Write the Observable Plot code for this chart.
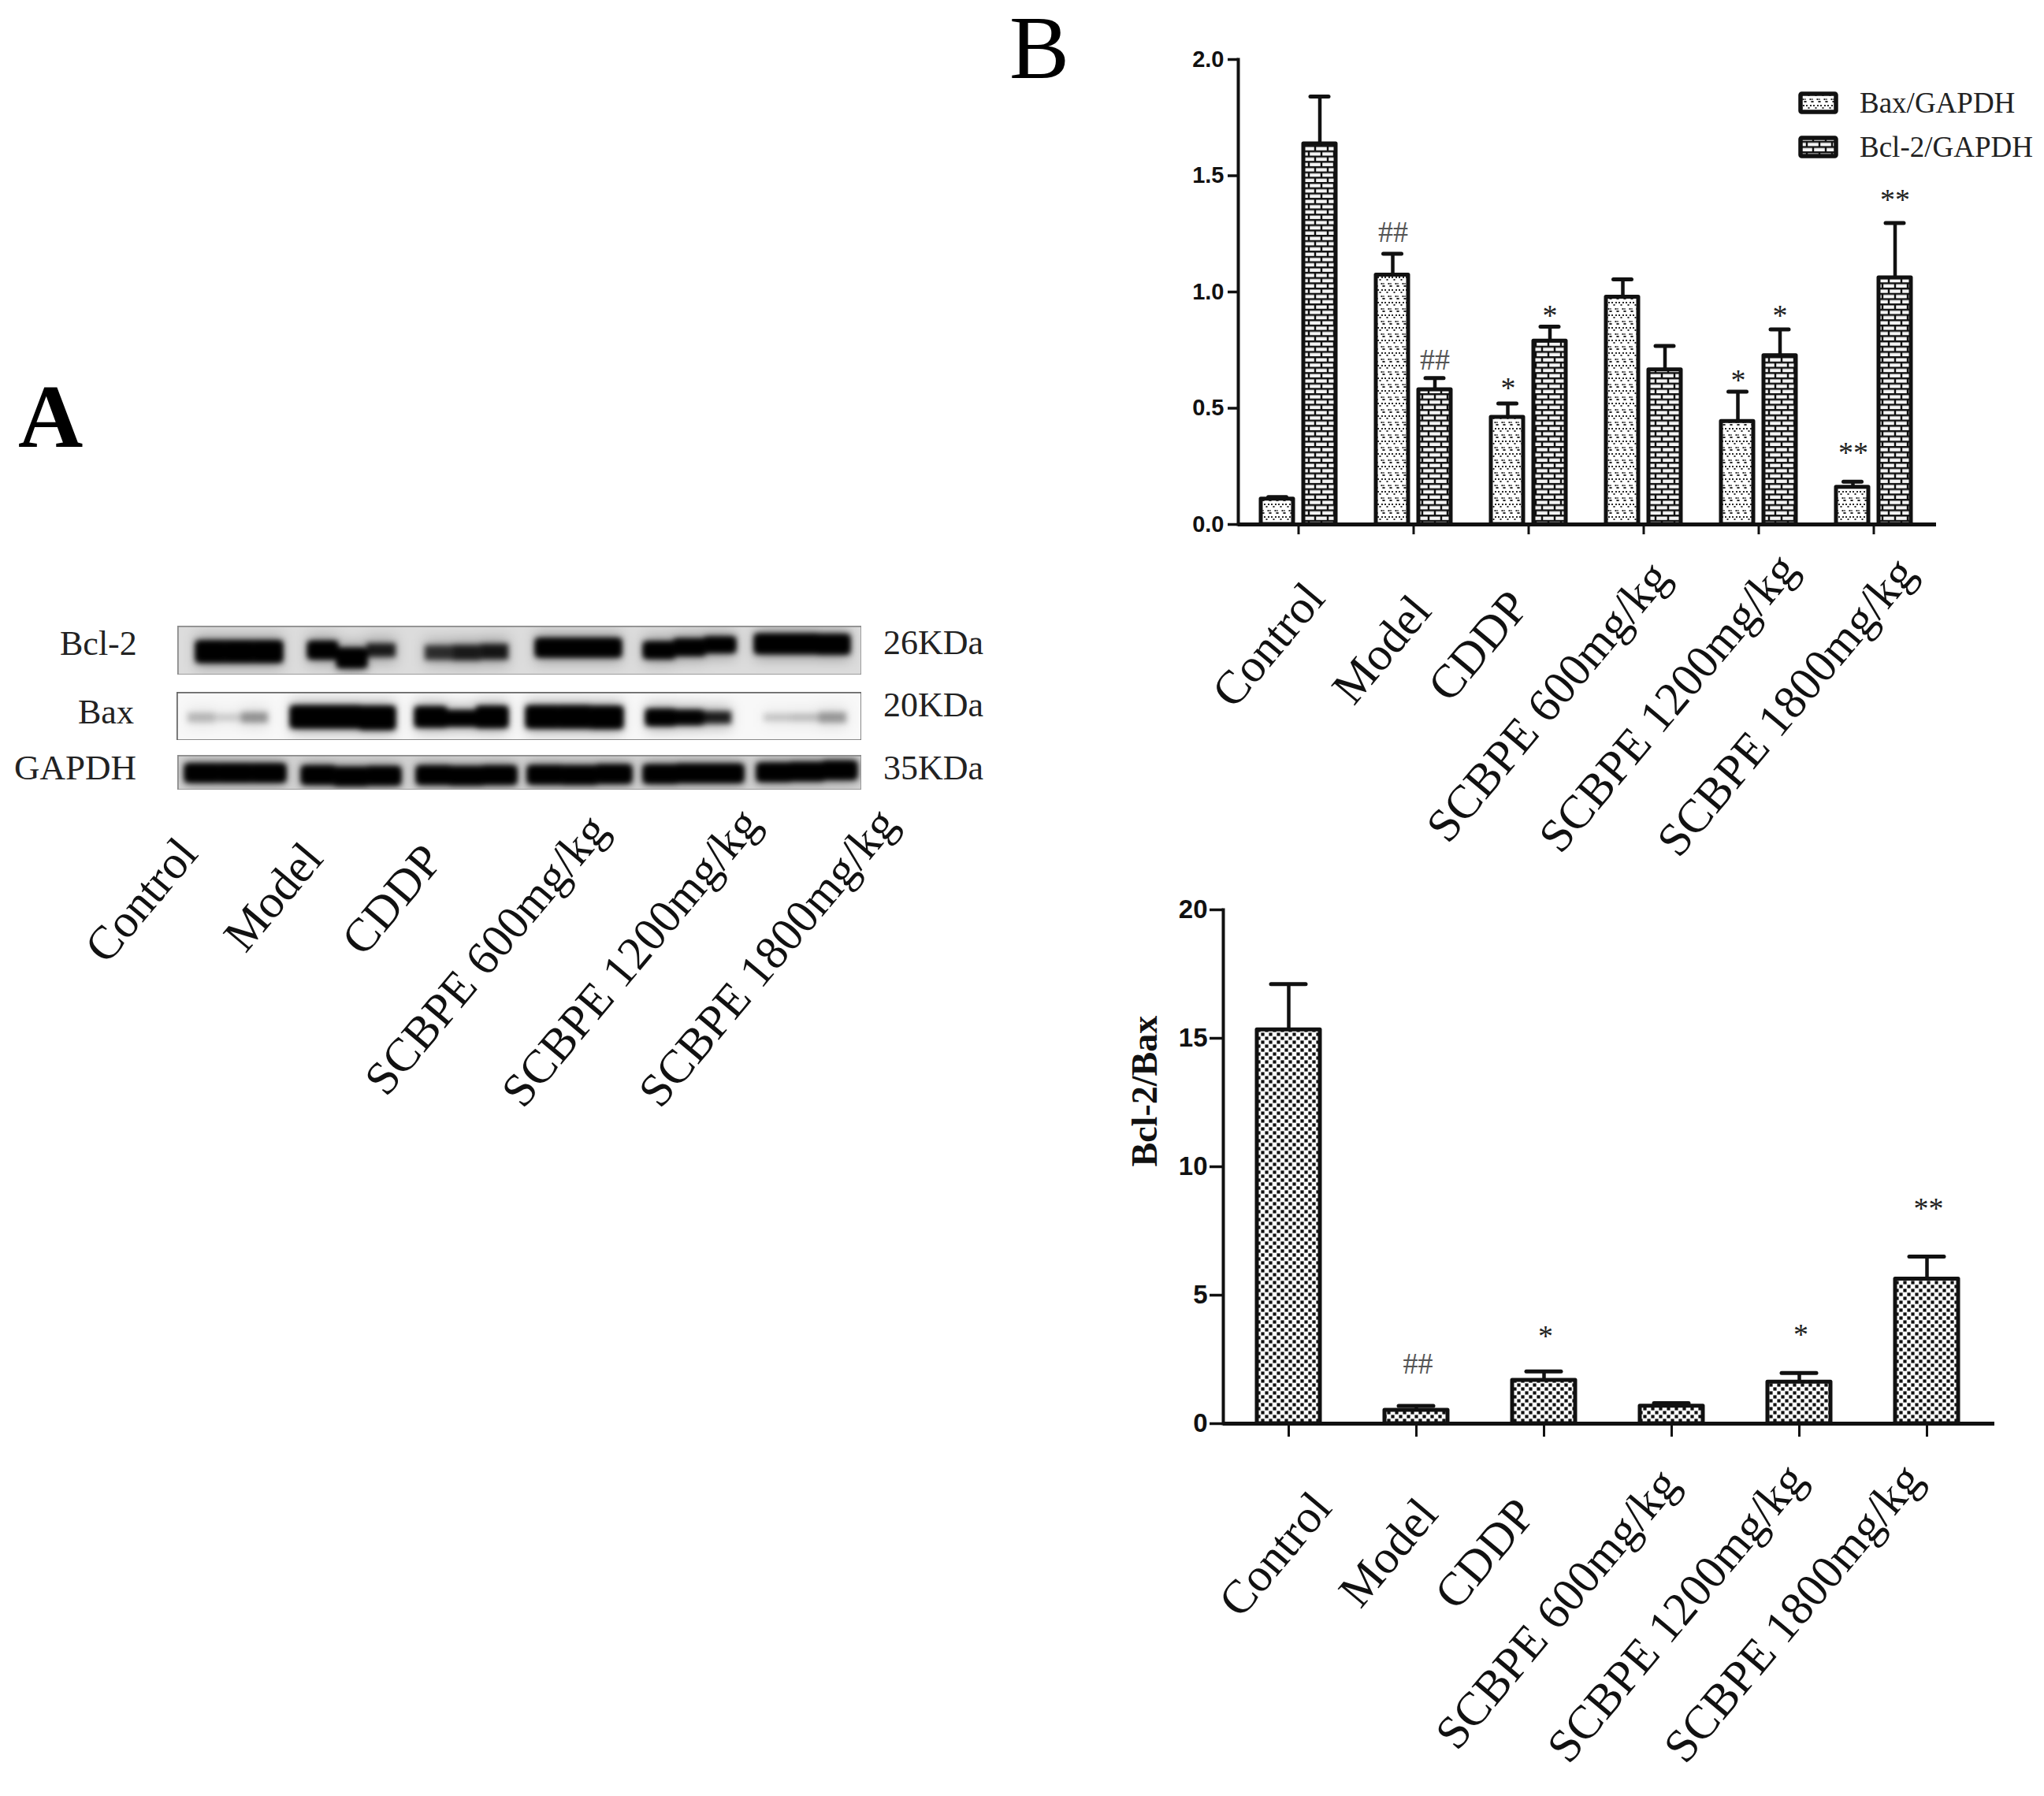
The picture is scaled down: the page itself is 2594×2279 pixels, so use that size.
<!DOCTYPE html>
<html><head><meta charset="utf-8">
<script src="https://cdn.jsdelivr.net/npm/d3@7"></script>
<script src="https://cdn.jsdelivr.net/npm/@observablehq/plot@0.6"></script>
<style>
html,body{margin:0;padding:0;background:#fff}
#page{position:relative;width:2594px;height:2279px;overflow:hidden;background:#fff}
#page svg.p{position:absolute;background:transparent;overflow:visible}
.t{position:absolute;font-family:"Liberation Serif",serif;color:#111;white-space:nowrap;line-height:1}
</style></head><body>
<div id="page">
<svg width="0" height="0" style="position:absolute"><defs>
<pattern id="dots" width="9" height="16" patternUnits="userSpaceOnUse">
 <rect width="9" height="16" fill="#fff"/>
 <g fill="#2a2a2a"><rect x="1" y="1" width="2" height="2"/><rect x="6" y="1" width="2" height="2"/><rect x="3.5" y="4" width="2" height="2"/></g>
 <g fill="#2a2a2a"><rect x="5.5" y="9" width="2" height="2"/><rect x="-1" y="9" width="1.6" height="2"/><rect x="8.4" y="9" width="1.6" height="2"/><rect x="0" y="12" width="1.6" height="2"/><rect x="7.4" y="12" width="1.6" height="2"/></g>
</pattern>
<pattern id="brick" width="16" height="13.4" patternUnits="userSpaceOnUse">
 <rect width="16" height="13.4" fill="#f4f4f4"/>
 <path d="M0 1.2H16M0 7.9H16" stroke="#111" stroke-width="2.4"/>
 <path d="M3 1.2V7.9M11 7.9V13.4" stroke="#111" stroke-width="2.4"/>
</pattern>
<pattern id="checker" width="10" height="10" patternUnits="userSpaceOnUse">
 <rect width="10" height="10" fill="#fff"/>
 <rect x="0.4" y="0.4" width="4.2" height="4.2" fill="#111"/><rect x="5.4" y="5.4" width="4.2" height="4.2" fill="#111"/>
</pattern>
</defs></svg>
</div>
<script>
// ---------- data ----------
const groups = ["Control","Model","CDDP","SCBPE 600mg/kg","SCBPE 1200mg/kg","SCBPE 1800mg/kg"];
const baxMean = [0.109,1.073,0.461,0.978,0.443,0.16];
const baxTop  = [0.118,1.164,0.52,1.054,0.571,0.184];
const bclMean = [1.637,0.58,0.789,0.665,0.726,1.061];
const bclTop  = [1.841,0.63,0.851,0.768,0.839,1.297];
const ratioMean = [15.33,0.52,1.69,0.68,1.62,5.63];
const ratioTop  = [17.11,0.69,2.03,0.80,1.97,6.50];
const baxMarks = [["Model","##",1.27],["CDDP","*",0.60],["SCBPE 1200mg/kg","*",0.632],["SCBPE 1800mg/kg","**",0.322]];
const bclMarks = [["Model","##",0.72],["CDDP","*",0.91],["SCBPE 1200mg/kg","*",0.912],["SCBPE 1800mg/kg","**",1.409]];
const ratioMarks = [["Model","##",2.43],["CDDP","*",3.53],["SCBPE 1200mg/kg","*",3.59],["SCBPE 1800mg/kg","**",8.49]];

// blot bands: lane edges along the membrane, and for three parts of each lane the centre, thickness, darkness
const bclLeft  = [24,166,314,455,592,733];
const bclRight = [133,277,420,563,708,853];
const bclCentre= [.53,.53,.53, .50,.66,.50, .55,.55,.53, .45,.45,.45, .50,.44,.39, .37,.37,.38];
const bclThick = [.42,.42,.42, .34,.38,.28, .30,.32,.32, .36,.36,.36, .32,.32,.30, .38,.38,.38];
const bclDark  = [1,1,1, 1,1,.85, .75,.85,.88, 1,1,1, 1,1,1, 1,1,1];
const baxLeft  = [14,145,303,444,596,745];
const baxRight = [116,277,420,566,704,850];
const baxCentre= [.53,.53,.53, .52,.52,.54, .52,.55,.52, .52,.52,.53, .53,.53,.53, .53,.53,.53];
const baxThick = [.2,.16,.22, .44,.44,.46, .4,.3,.42, .44,.44,.44, .32,.28,.26, .16,.16,.22];
const baxDark  = [.22,.14,.35, 1,1,1, 1,1,1, 1,1,1, 1,.95,.85, .17,.2,.33];
const gapLeft  = [10,158,304,445,592,736];
const gapRight = [137,283,430,576,718,862];
const gapCentre= [.52,.52,.52, .58,.62,.6, .58,.6,.58, .57,.58,.55, .55,.53,.53, .5,.48,.44];
const gapThick = [.5,.5,.5, .5,.5,.5, .5,.5,.5, .5,.5,.5, .5,.5,.5, .5,.5,.5];
const gapDark  = [1,1,1, 1,1,1, 1,1,1, 1,1,1, 1,1,1, 1,1,1];

// ---------- helpers ----------
const page = document.getElementById("page");
const serif = "Liberation Serif", sans = "Liberation Sans";
function put(svg,left,top){svg.classList.add("p");svg.style.left=left+"px";svg.style.top=top+"px";page.appendChild(svg);}
function label(text,left,top,size,extra){
  const d=document.createElement("div");d.className="t";d.textContent=text;
  d.style.left=left+"px";d.style.top=top+"px";d.style.fontSize=size+"px";
  if(extra)Object.assign(d.style,extra);page.appendChild(d);return d;}
function tickLabels(nudgeX,nudgeY,size,angle){
  return groups.map((g,i)=>Plot.text([g],{x:()=>g,text:()=>g,frameAnchor:"bottom",dx:nudgeX[i],dy:nudgeY[i],
    rotate:angle,textAnchor:"end",lineAnchor:"middle",fontFamily:serif,fontSize:size,fill:"#111"}));
}
const rows=(m,t)=>groups.map((g,i)=>({g,m:m[i],t:t[i]}));
function bars(data,fill,opt){
  const {dx=0,inL=0,inR=0,capInset}=opt;
  return [
    Plot.ruleX(data,{x:"g",y1:"m",y2:"t",dx,stroke:"#111",strokeWidth:4.5}),
    Plot.tickY(data,{x:"g",y:"t",dx,insetLeft:capInset,insetRight:capInset,stroke:"#111",strokeWidth:5,strokeLinecap:"round"}),
    Plot.barY(data,{x:"g",y1:0,y2:"m",insetLeft:inL,insetRight:inR,fill,stroke:"#111",strokeWidth:5,strokeLinejoin:"round"})
  ];
}
function marks(list,dx,size,dy){
  return [["##","#555"],["*","#222"],["**","#222"]].map(([s,c])=>
    Plot.text(list.filter(d=>d[1]===s),{x:d=>d[0],y:d=>d[2],text:d=>d[1],dx,dy:dy,fontFamily:serif,fontSize:size,fill:c,lineAnchor:"middle"}));
}

// ---------- panel B, top ----------
{
  const L=1450,T=30,W=1144,H=1110,p=0.352;
  const bax=rows(baxMean,baxTop), bcl=rows(bclMean,bclTop);
  put(Plot.plot({
    width:W,height:H,marginLeft:1571-L,marginRight:L+W-2457,marginTop:75-T,marginBottom:T+H-665,
    style:{background:"transparent"},
    x:{domain:groups,range:[1572.7-L,2452.7-L],paddingInner:p,paddingOuter:p/2,align:0.5,axis:null},
    y:{domain:[0,2]},
    marks:[
      ...bars(bax,"url(#dots)",{dx:-26.5,inR:54,capInset:36}),
      ...bars(bcl,"url(#brick)",{dx:27,inL:54,capInset:36}),
      Plot.axisX({tickSize:13,tickFormat:()=>"",label:null,strokeWidth:3,stroke:"#111"}),
      Plot.axisY({ticks:[0,.5,1,1.5,2],tickFormat:".1f",label:null,tickSize:13,tickPadding:5,strokeWidth:3.5,stroke:"#111",
        fontFamily:sans,fontWeight:"bold",fontSize:29,fill:"#111"}),
      Plot.frame({anchor:"left",stroke:"#111",strokeWidth:4}),
      Plot.ruleY([0],{stroke:"#111",strokeWidth:5}),
      ...marks(baxMarks,-26,38,4),
      ...marks(bclMarks,27,38,4),
      ...tickLabels([21,10,-12,21,37,41],[83,99,93,56,46,51],60,-50)
    ]
  }),L,T);
}
// legend
[["url(#dots)","Bax/GAPDH",116],["url(#brick)","Bcl-2/GAPDH",172]].forEach(([f,t,y])=>{
  const s=document.createElementNS("http://www.w3.org/2000/svg","svg");
  s.setAttribute("width",51);s.setAttribute("height",29);s.style.cssText=`position:absolute;left:2282px;top:${y}px`;
  s.innerHTML=`<rect x="3" y="3" width="45" height="23" fill="${f}" stroke="#111" stroke-width="5.5" rx="1.5"/>`;
  page.appendChild(s);
  label(t,2360,y-4,37,{color:"#222"});
});

// ---------- panel B, bottom ----------
{
  const L=1400,T=1130,W=1194,H=1149,p=0.508;
  const r=rows(ratioMean,ratioTop);
  put(Plot.plot({
    width:W,height:H,marginLeft:1552-L,marginRight:L+W-2531,marginTop:1154-T,marginBottom:T+H-1806,
    style:{background:"transparent"},
    x:{domain:groups,range:[1552-L,2527.6-L],paddingInner:p,paddingOuter:p/2,align:0.5,axis:null},
    y:{domain:[0,20]},
    marks:[
      ...bars(r,"url(#checker)",{dx:0,capInset:18}),
      Plot.axisX({tickSize:17,tickFormat:()=>"",label:null,strokeWidth:3,stroke:"#111"}),
      Plot.axisY({ticks:[0,5,10,15,20],label:null,tickSize:17,tickPadding:3,strokeWidth:3.5,stroke:"#111",
        fontFamily:sans,fontWeight:"bold",fontSize:33,fill:"#111"}),
      Plot.frame({anchor:"left",stroke:"#111",strokeWidth:4}),
      Plot.ruleY([0],{stroke:"#111",strokeWidth:5}),
      ...marks(ratioMarks,2,38,4),
      Plot.text(["Bcl-2/Bax"],{frameAnchor:"left",rotate:-90,dx:-99,fontFamily:serif,fontWeight:"bold",fontSize:46,fill:"#111"}),
      ...tickLabels([42,15,-23,-3,-4,-18],[96,104,104,66,60,60],60,-50)
    ]
  }),L,T);
}

// ---------- panel A: blots ----------
function blot(left,top,w,h,bg,edge,L,R,C,Th,D){
  const lobes=[];
  L.forEach((l,i)=>{for(let j=0;j<3;j++){const k=i*3+j,s=(R[i]-l)/3;
    lobes.push({x1:l+s*j,x2:l+s*(j+1),y1:C[k]-Th[k]/2,y2:C[k]+Th[k]/2,d:D[k]});}});
  const svg=Plot.plot({width:w,height:h,margin:0,style:{background:"transparent",overflow:"hidden"},
    x:{domain:[0,w],axis:null},y:{domain:[1,0],axis:null},
    marks:[
      Plot.frame({fill:bg,stroke:null}),
      Plot.rect(lobes,{x1:"x1",x2:"x2",y1:d=>d.y1-.12,y2:d=>d.y2+.12,fill:"#000",fillOpacity:d=>d.d*.28,imageFilter:"blur(8px)"}),
      Plot.rect(lobes,{x1:"x1",x2:"x2",y1:"y1",y2:"y2",fill:"#000",fillOpacity:"d",imageFilter:"blur(3.5px)"}),
      Plot.rect(lobes,{x1:"x1",x2:"x2",y1:"y1",y2:"y2",fill:"#000",fillOpacity:d=>d.d>.9?.8:0,imageFilter:"blur(4.5px)"}),
      Plot.frame({stroke:edge,strokeWidth:2.5})
    ]});
  put(svg,left,top);svg.style.overflow="hidden";
}
blot(225,794,868,62,"#dcdcdc","#8a8a8a",bclLeft,bclRight,bclCentre,bclThick,bclDark);
blot(224,878,869,61,"#f8f8f8","#666",baxLeft,baxRight,baxCentre,baxThick,baxDark);
blot(225,958,868,44,"#d4d4d4","#8a8a8a",gapLeft,gapRight,gapCentre,gapThick,gapDark);

[["Bcl-2",76,795,44],["Bax",99,882,44],["GAPDH",18,952,45]].forEach(([t,x,y,s])=>label(t,x,y,s,{color:"#222"}));
[["26KDa",794],["20KDa",873],["35KDa",953]].forEach(([t,y])=>label(t,1121,y,44,{color:"#222"}));
label("A",23,472,114,{fontWeight:"bold",color:"#000"});
label("B",1281,4,114,{color:"#000"});

// lane labels for panel A
put(Plot.plot({
  width:1200,height:560,marginLeft:0,marginRight:0,marginTop:0,marginBottom:560,
  style:{background:"transparent"},
  x:{domain:groups,range:[232,1090],padding:0,axis:null},y:{domain:[0,1],axis:null},
  marks:tickLabels([4,-8,-27,12,34,37],[70,76,78,40,32,32],60,-50)
}),0,1002);
</script>
</body></html>
